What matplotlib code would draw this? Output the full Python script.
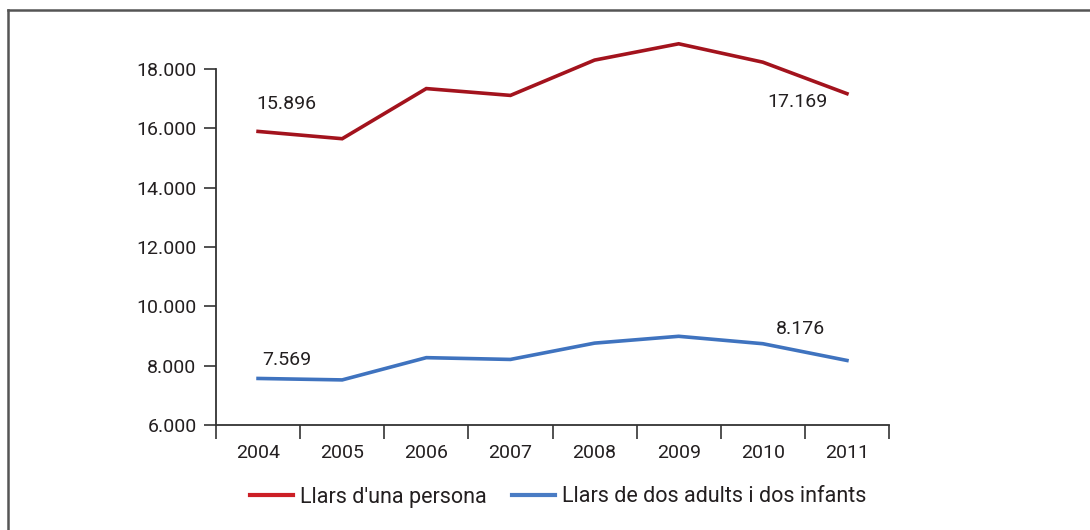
import matplotlib
matplotlib.use("Agg")
import matplotlib.pyplot as plt
from matplotlib.lines import Line2D

years = ["2004", "2005", "2006", "2007", "2008", "2009", "2010", "2011"]
one_person = [15896, 15650, 17340, 17110, 18300, 18850, 18230, 17169]
two_adults_two_kids = [7569, 7520, 8270, 8210, 8760, 8990, 8740, 8176]
yticks = [6000, 8000, 10000, 12000, 14000, 16000, 18000]
ytick_labels = ["6.000", "8.000", "10.000", "12.000", "14.000", "16.000", "18.000"]
series_names = ["Llars d'una persona", "Llars de dos adults i dos infants"]

red = "#a3131d"
blue = "#3f73bf"
txt = "#231f20"

plt.rcParams['font.family'] = ['Roboto', 'DejaVu Sans']
FS = 14

fig = plt.figure(figsize=(10.9, 5.3), dpi=100)
ax = fig.add_axes([216/1090, 1-425/530, (889-216)/1090, (425-69)/530])

x = list(range(len(years)))
ax.plot(x, one_person, color=red, lw=2.6, clip_on=False, solid_joinstyle='miter')
ax.plot(x, two_adults_two_kids, color=blue, lw=2.6, clip_on=False, solid_joinstyle='miter')

ax.set_xlim(-0.5, len(years) - 0.5)
ax.set_ylim(6000, 18000)
ax.set_yticks(yticks)
ax.set_yticklabels(ytick_labels)
ax.set_xticks([i - 0.5 for i in range(len(years) + 1)])
ax.set_xticklabels([])
ax.set_xticks(x, minor=True)
ax.set_xticklabels(years, minor=True)
ax.tick_params(axis='x', which='minor', length=0, pad=14, labelsize=FS, colors=txt)
ax.tick_params(axis='x', which='major', length=10, width=1.2, color='#333333')
ax.tick_params(axis='y', length=9, width=1.2, color='#333333', labelsize=FS, labelcolor=txt, pad=5)

for s in ['top', 'right']:
    ax.spines[s].set_visible(False)
for s in ['left', 'bottom']:
    ax.spines[s].set_color('#333333')
    ax.spines[s].set_linewidth(1.3)

# data labels
ax.annotate(f"{one_person[0]/1000:.3f}", (0, one_person[0]), xytext=(-1, 20), textcoords='offset points',
            ha='left', va='center', fontsize=FS, color=txt)
ax.annotate(f"{two_adults_two_kids[0]/1000:.3f}", (0, two_adults_two_kids[0]), xytext=(3, 13), textcoords='offset points',
            ha='left', va='center', fontsize=FS, color=txt)
ax.annotate(f"{one_person[-1]/1000:.3f}", (7, one_person[-1]), xytext=(-14, -6), textcoords='offset points',
            ha='right', va='center', fontsize=FS, color=txt)
ax.annotate(f"{two_adults_two_kids[-1]/1000:.3f}", (7, two_adults_two_kids[-1]), xytext=(-16, 23), textcoords='offset points',
            ha='right', va='center', fontsize=FS, color=txt)

handles = [Line2D([], [], color="#cc1f26", lw=3), Line2D([], [], color="#4a7cc4", lw=3)]
fig.legend(handles, series_names, loc='center', bbox_to_anchor=(558/1090, 1-497/530), ncol=2,
           frameon=False, fontsize=15.5, handlelength=2.0, handletextpad=0.3, columnspacing=1.2,
           labelcolor=txt)

# figure border (top and left)
fig.add_artist(Line2D([8/1090, 1], [1-10/530, 1-10/530], transform=fig.transFigure, color='#555555', lw=1.8))
fig.add_artist(Line2D([8/1090, 8/1090], [0, 1-10/530], transform=fig.transFigure, color='#555555', lw=1.8))

fig.savefig("out.png", dpi=100)
